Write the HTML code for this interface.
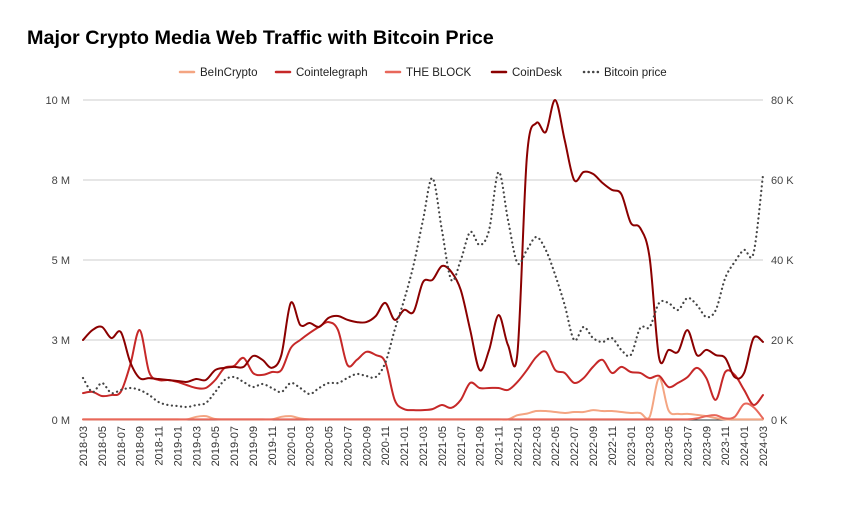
<!DOCTYPE html>
<html><head><meta charset="utf-8">
<style>
body{margin:0;background:#fff;}
svg{display:block;font-family:"Liberation Sans",Arial,sans-serif;}
</style></head>
<body>
<svg id="chart" width="853" height="527" viewBox="0 0 853 527">
<rect width="853" height="527" fill="#fff"/>
<text x="27" y="44" font-size="19.8" font-weight="bold" fill="#000">Major Crypto Media Web Traffic with Bitcoin Price</text>
<g id="grid"></g>
<g id="axes"></g>
<g id="series"></g>
<g id="legend"></g>
</svg>
<script>
const months = [];
for (let y = 2018, m = 3; !(y === 2024 && m > 3); m++) { if (m > 12) { m = 1; y++; } if (y === 2024 && m > 3) break; months.push(y + '-' + String(m).padStart(2, '0')); }
const leftTicks = [0, 2.5, 5, 7.5, 10];
const leftTickLabels = ['0 M', '3 M', '5 M', '8 M', '10 M'];
const rightTicks = [0, 20, 40, 60, 80];
const rightTickLabels = ['0 K', '20 K', '40 K', '60 K', '80 K'];
const beincrypto = [0.02,0.02,0.02,0.02,0.02,0.02,0.02,0.02,0.02,0.02,0.02,0.02,0.1,0.12,0.03,0.02,0.02,0.02,0.02,0.02,0.02,0.1,0.12,0.05,0.02,0.02,0.02,0.02,0.02,0.02,0.02,0.02,0.02,0.02,0.02,0.02,0.02,0.02,0.02,0.02,0.02,0.02,0.02,0.02,0.02,0.02,0.15,0.2,0.28,0.28,0.25,0.22,0.25,0.25,0.31,0.28,0.28,0.25,0.22,0.22,0.1,1.31,0.3,0.19,0.19,0.16,0.12,0.06,0.02,0.02,0.02,0.02,0.02];
const cointelegraph = [0.84,0.88,0.75,0.78,0.88,1.72,2.81,1.5,1.25,1.25,1.19,1.09,1.0,1.0,1.25,1.63,1.69,1.94,1.47,1.41,1.5,1.56,2.25,2.5,2.72,2.91,3.06,2.81,1.72,1.88,2.13,2.03,1.81,0.63,0.34,0.31,0.31,0.34,0.47,0.38,0.63,1.16,1.0,1.0,1.0,0.94,1.19,1.56,1.97,2.13,1.56,1.47,1.16,1.31,1.66,1.88,1.47,1.66,1.5,1.47,1.31,1.38,1.03,1.16,1.34,1.63,1.31,0.63,1.5,1.41,0.94,0.47,0.78];
const theblock = [0.02,0.02,0.02,0.02,0.02,0.02,0.02,0.02,0.02,0.02,0.02,0.02,0.02,0.02,0.02,0.02,0.02,0.02,0.02,0.02,0.02,0.02,0.02,0.02,0.02,0.02,0.02,0.02,0.02,0.02,0.02,0.02,0.02,0.02,0.02,0.02,0.02,0.02,0.02,0.02,0.02,0.02,0.02,0.02,0.02,0.02,0.02,0.02,0.02,0.02,0.02,0.02,0.02,0.02,0.02,0.02,0.02,0.02,0.02,0.02,0.02,0.02,0.02,0.02,0.02,0.05,0.12,0.15,0.05,0.1,0.5,0.4,0.05];
const coindesk = [2.5,2.81,2.91,2.56,2.75,1.81,1.31,1.31,1.28,1.25,1.22,1.19,1.28,1.25,1.56,1.63,1.66,1.66,2.0,1.88,1.63,2.03,3.66,2.97,3.03,2.91,3.19,3.25,3.13,3.06,3.06,3.25,3.66,3.13,3.44,3.38,4.31,4.38,4.81,4.63,4.06,2.81,1.56,2.19,3.28,2.34,2.09,8.22,9.28,9.0,10.0,8.75,7.5,7.75,7.69,7.41,7.19,7.06,6.16,6.0,5.06,1.94,2.19,2.13,2.81,2.03,2.19,2.03,1.94,1.34,1.47,2.56,2.44];
const bitcoin = [10.5,7,9.25,6.75,7.5,8,7.5,6.25,4.5,3.75,3.5,3.25,3.75,4.25,7,10,10.75,9.5,8.25,9,8,7,9.25,8,6.5,8,9.25,9.25,10.5,11.5,11,10.75,14.25,22.5,30,38.75,50,60.5,47.5,35,40,47,43.75,47.5,62,50,39.25,42.5,45.75,42.5,36.25,28.75,20,23.25,20.5,19.5,20.5,17.5,16.25,23,23.25,29.25,29.25,27.5,30.5,28.75,25.75,27.5,35.5,39.5,42.5,41.75,61.25];

const NS = 'http://www.w3.org/2000/svg';
const X0 = 83, X1 = 763, YT = 100, YB = 420;
const xS = i => X0 + (X1 - X0) * i / (months.length - 1);
const yL = v => YB - (YB - YT) * v / 10;
const yR = v => YB - (YB - YT) * v / 80;
function mk(tag, attrs, parent) { const e = document.createElementNS(NS, tag); for (const k in attrs) e.setAttribute(k, attrs[k]); parent.appendChild(e); return e; }
const grid = document.getElementById('grid'), axes = document.getElementById('axes'), ser = document.getElementById('series'), leg = document.getElementById('legend');

leftTicks.forEach((t, i) => {
  const y = yL(t);
  const l = mk('line', {x1: X0, x2: X1, y1: y, y2: y, stroke: i === 0 ? '#333' : '#ccc', 'stroke-width': 1}, grid);
  
  
  const tx = mk('text', {x: 70, y: y + 4, 'text-anchor': 'end', 'font-size': 11, fill: '#444'}, axes);
  tx.textContent = leftTickLabels[i];
  
  
});
rightTicks.forEach((t, i) => {
  const tx = mk('text', {x: 771, y: yR(t) + 4, 'font-size': 11, fill: '#444'}, axes);
  tx.textContent = rightTickLabels[i];
  
  
});
months.forEach((m, i) => {
  if (i % 2) return;
  const x = xS(i) + 4;
  const tx = mk('text', {x: x, y: 426, 'font-size': 11, fill: '#333', 'text-anchor': 'end', transform: `rotate(-90 ${x} 426)`}, axes);
  tx.textContent = m;
  
  
});

function smooth(pts) {
  let d = `M${pts[0][0]},${pts[0][1]}`;
  for (let i = 0; i < pts.length - 1; i++) {
    const p0 = pts[Math.max(0, i - 1)], p1 = pts[i], p2 = pts[i + 1], p3 = pts[Math.min(pts.length - 1, i + 2)];
    const c1x = p1[0] + (p2[0] - p0[0]) / 6, c1y = p1[1] + (p2[1] - p0[1]) / 6;
    const c2x = p2[0] - (p3[0] - p1[0]) / 6, c2y = p2[1] - (p3[1] - p1[1]) / 6;
    d += ` C${c1x},${c1y} ${c2x},${c2y} ${p2[0]},${p2[1]}`;
  }
  return d;
}
const seriesDefs = [
  {name: 'BeInCrypto', data: beincrypto, color: '#f4a582', scale: yL, id: 'beincrypto-line'},
  {name: 'Cointelegraph', data: cointelegraph, color: '#c62828', scale: yL, id: 'cointelegraph-line'},
  {name: 'THE BLOCK', data: theblock, color: '#e8675a', scale: yL, id: 'theblock-line'},
  {name: 'CoinDesk', data: coindesk, color: '#8b0000', scale: yL, id: 'coindesk-line'},
  {name: 'Bitcoin price', data: bitcoin, color: '#444', scale: yR, id: 'bitcoin-price-line', dash: true}
];
seriesDefs.forEach(s => {
  const pts = s.data.map((v, i) => [xS(i), s.scale(v)]);
  const attrs = {d: smooth(pts), fill: 'none', stroke: s.color, 'stroke-width': s.dash ? 2.2 : 2, 'stroke-linecap': 'round'};
  if (s.dash) attrs['stroke-dasharray'] = '0.1 4.5';
  const p = mk('path', attrs, ser);
  
  
});
const legX = [180, 276, 386, 492, 584];
seriesDefs.forEach((s, i) => {
  const x = legX[i];
  const attrs = {x1: x, x2: x + 14, y1: 72, y2: 72, stroke: s.color, 'stroke-width': 2.5, 'stroke-linecap': 'round'};
  if (s.dash) attrs['stroke-dasharray'] = '0.1 4.5';
  const l = mk('line', attrs, leg);
  
  
  const t = mk('text', {x: x + 20, y: 76, 'font-size': 11.5, fill: '#222'}, leg);
  t.textContent = s.name;
  
  
});
</script>
</body></html>
